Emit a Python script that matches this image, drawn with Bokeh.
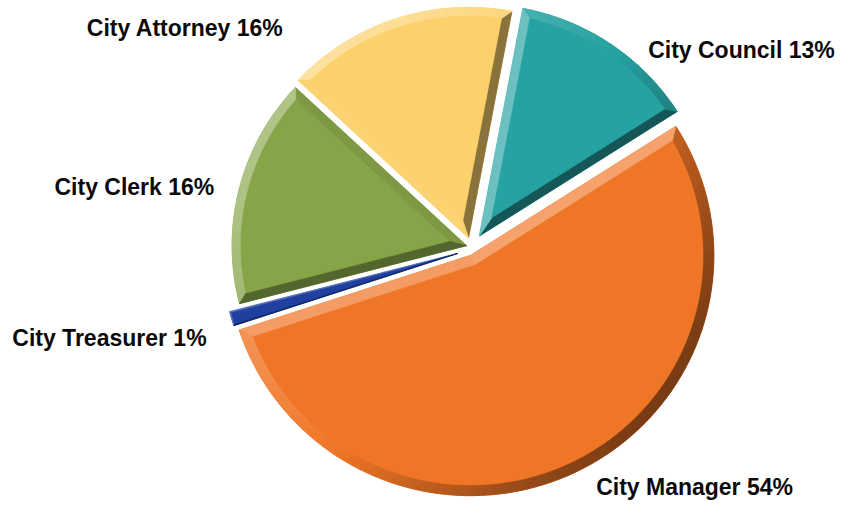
import numpy as np
from bokeh.plotting import figure
from bokeh.models import Range1d, ColumnDataSource
from bokeh.embed import file_html
from bokeh.resources import INLINE
from bokeh.core.properties import value

# ---- data ----
departments = ["City Council", "City Attorney", "City Clerk", "City Treasurer", "City Manager"]
shares = [13, 16, 16, 1, 54]
share_labels = ["City Council 13%", "City Attorney 16%", "City Clerk 16%",
                "City Treasurer 1%", "City Manager 54%"]

# ---- style / layout ----
FACE = ["#27a2a2", "#fcd16c", "#86a549", "#1f40a0", "#f07627"]
START_DEG = 32.5                       # where the first slice begins (counter-clockwise)
CENTER = (476, 253)                    # pie centre (x right, y down)
EXPLODE = [(12, -10), (1, -8), (-1, 0), (-10, 8), (3, 10)]   # per-slice pull-out
RADIUS = [239, 238, 239, 240, 248]
BEVEL = [9, 9, 9, 1.5, 11]
LABEL_AT = [(660, 51), (88, 28), (55, 192), (12, 348), (607, 502)]   # left, baseline
LIGHT = np.deg2rad(145)
H = 517

W_FIG, H_FIG = 838, 501
p = figure(width=W_FIG, height=H_FIG, output_backend="svg", toolbar_location=None,
           x_range=Range1d(0, 854), y_range=Range1d(0, H),
           x_axis_type=None, y_axis_type=None, min_border=0)
p.grid.visible = False
p.outline_line_color = None
p.background_fill_color = "white"


def mix(hex_col, target, t):
    c = np.array([int(hex_col[i:i + 2], 16) for i in (1, 3, 5)], float)
    tg = np.array(target, float)
    r = c + (tg - c) * t
    return "#%02x%02x%02x" % tuple(int(round(v)) for v in np.clip(r, 0, 255))


total = float(sum(shares))
angles = np.deg2rad(START_DEG) + 2 * np.pi * np.concatenate([[0], np.cumsum(shares)]) / total

bx, by, bc = [], [], []   # bevel quads
fx, fy, fc = [], [], []   # faces
ox, oy, oc = [], [], []   # outer bases
lx = np.array([np.cos(LIGHT), np.sin(LIGHT)])

for i in range(len(shares)):
    a0, a1 = angles[i], angles[i + 1]
    r, b = RADIUS[i], BEVEL[i]
    ax = CENTER[0] + EXPLODE[i][0]
    ay = H - (CENTER[1] + EXPLODE[i][1])
    n = max(8, int(np.degrees(a1 - a0) / 2))
    th = np.linspace(a0, a1, n)
    outer = [(ax, ay)] + [(ax + r * np.cos(t), ay + r * np.sin(t)) for t in th]
    h = (a1 - a0) / 2
    mid = a0 + h
    d = b / max(np.sin(h), 0.05)
    iax, iay = ax + d * np.cos(mid), ay + d * np.sin(mid)
    delta = np.arcsin(min(b / (r - b), 0.99))
    th2 = np.linspace(a0 + delta, a1 - delta, n)
    inner = [(iax, iay)] + [(ax + (r - b) * np.cos(t), ay + (r - b) * np.sin(t)) for t in th2]
    ox.append([q[0] for q in outer]); oy.append([q[1] for q in outer]); oc.append(FACE[i])
    m = len(outer)
    for k in range(m):
        p0, p1 = outer[k], outer[(k + 1) % m]
        q0, q1 = inner[k], inner[(k + 1) % m]
        ex, ey = p1[0] - p0[0], p1[1] - p0[1]
        ln = np.hypot(ex, ey) or 1.0
        nrm = np.array([ey, -ex]) / ln
        dt = float(nrm @ lx)
        col = mix(FACE[i], (255, 255, 255), 0.35 * dt) if dt > 0 else mix(FACE[i], (0, 0, 0), -0.5 * dt)
        bx.append([p0[0], p1[0], q1[0], q0[0]])
        by.append([p0[1], p1[1], q1[1], q0[1]])
        bc.append(col)
    fx.append([q[0] for q in inner]); fy.append([q[1] for q in inner]); fc.append(FACE[i])

p.patches(xs=ox, ys=oy, fill_color=oc, line_color=oc, line_width=0.5)
p.patches(source=ColumnDataSource(dict(xs=bx, ys=by, c=bc)), xs="xs", ys="ys",
          fill_color="c", line_color="c", line_width=0.8)
p.patches(xs=fx, ys=fy, fill_color=fc, line_color=fc, line_width=0.5)

p.text(x=[q[0] for q in LABEL_AT], y=[H - q[1] for q in LABEL_AT], text=share_labels,
       text_font=value("Liberation Sans"), text_font_style="bold", text_font_size="23px",
       text_color="#0a0a0a", text_align="left", text_baseline="alphabetic")

open("out.html", "w").write(file_html(p, INLINE))
